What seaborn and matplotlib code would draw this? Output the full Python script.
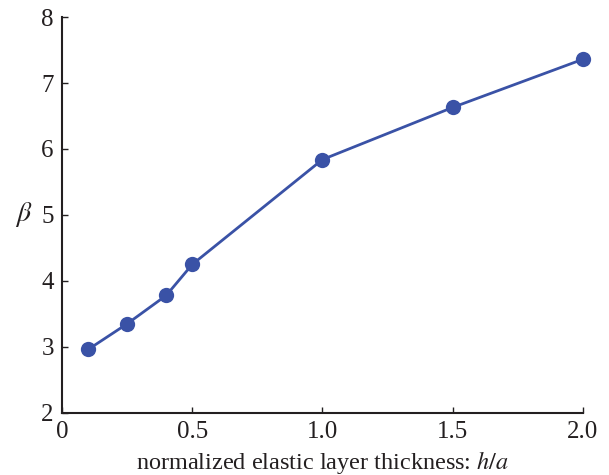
import matplotlib
matplotlib.use('Agg')
from matplotlib import pyplot as plt
import seaborn as sns
import pandas as pd

sns.set_style('ticks')
plt.rcParams['font.family'] = ['Liberation Serif', 'DejaVu Serif']
plt.rcParams['mathtext.fontset'] = 'stix'

thickness = [0.1, 0.25, 0.4, 0.5, 1.0, 1.5, 2.0]
beta = [2.96, 3.35, 3.78, 4.25, 5.84, 6.63, 7.36]
xticks = [0, 0.5, 1.0, 1.5, 2.0]
xticklabels = ['0', '0.5', '1.0', '1.5', '2.0']

df = pd.DataFrame({'h_a': thickness, 'beta': beta})

fig = plt.figure(figsize=(6.09, 4.75), dpi=100)
ax = fig.add_axes([0.102, 0.131, 0.855, 0.833])

sns.lineplot(data=df, x='h_a', y='beta', color='#3a52a6', linewidth=2,
             marker='o', markersize=11, markeredgewidth=0, clip_on=False, ax=ax)

ax.set_xlim(0, 2.0)
ax.set_ylim(2, 8)
ax.set_xticks(xticks)
ax.set_xticklabels(xticklabels)
ax.set_yticks(range(2, 9))
for s in ['top', 'right']:
    ax.spines[s].set_visible(False)
for s in ['left', 'bottom']:
    ax.spines[s].set_linewidth(1.5)
    ax.spines[s].set_color('#231f20')
ax.tick_params(axis='both', direction='in', length=4, width=1, labelsize=18,
               colors='#231f20', pad=6)
ax.set_xlabel('normalized elastic layer thickness: $\\it{h/a}$', fontsize=17.5,
              color='#231f20', labelpad=4)
ax.set_ylabel('$\\beta$', fontsize=20, rotation=0, color='#231f20', labelpad=13, va='center')

plt.savefig('out.png', dpi=100)
